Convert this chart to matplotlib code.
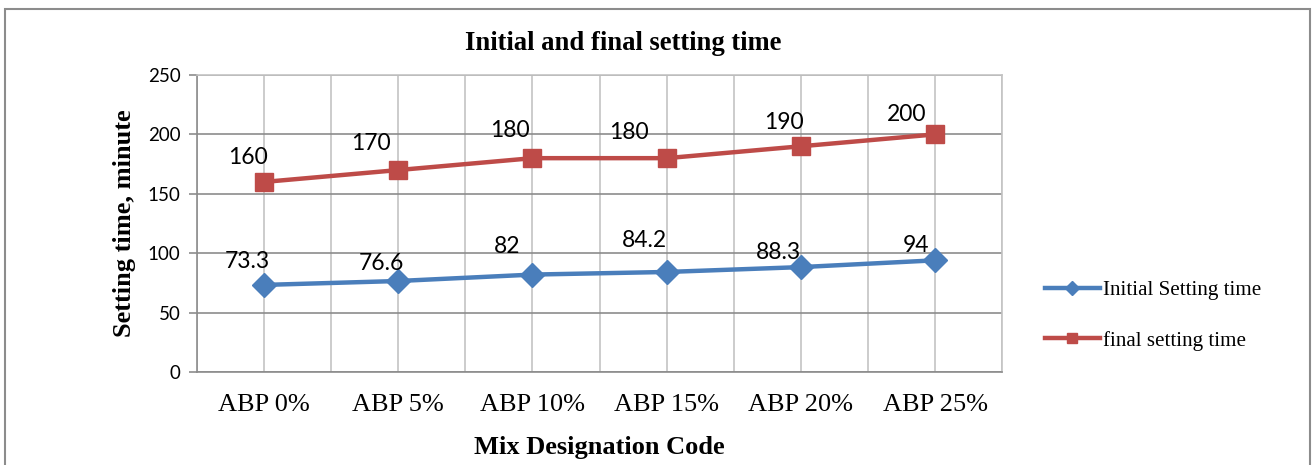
import matplotlib
matplotlib.use("Agg")
import matplotlib.pyplot as plt
from matplotlib.patches import Rectangle

# Setting time data (minutes) for each mix
mixes = ["ABP 0%", "ABP 5%", "ABP 10%", "ABP 15%", "ABP 20%", "ABP 25%"]
initial_time = [73.3, 76.6, 82, 84.2, 88.3, 94]
final_time = [160, 170, 180, 180, 190, 200]

# hand-placed label offsets (pixels, relative to the point)
initial_offsets = [(-17, 23), (-17, 18), (-25, 28), (-22, 31), (-22, 15), (-19, 15)]
final_offsets = [(-16, 24), (-27, 27), (-23, 28), (-38, 26), (-17, 24), (-28, 20)]

BLUE = "#4A7EBB"
RED = "#BE4B48"
SERIF = "Liberation Serif"
SANS = "Lato"


def main():
    fig = plt.figure(figsize=(13.12, 4.65), dpi=100)
    ax = fig.add_axes([0.1502, 0.2, 0.6136, 0.6387])

    x = list(range(len(mixes)))
    ax.plot(x, initial_time, color=BLUE, lw=3.2, marker="D", ms=12,
            label="Initial Setting time", zorder=3)
    ax.plot(x, final_time, color=RED, lw=3.2, marker="s", ms=13,
            label="final setting time", zorder=3)

    for xi, v, off in zip(x, initial_time, initial_offsets):
        ax.annotate(f"{v:g}", (xi, v), xytext=off, textcoords="offset pixels",
                    ha="center", va="center", fontsize=16.5, family=SANS)
    for xi, v, off in zip(x, final_time, final_offsets):
        ax.annotate(f"{v:g}", (xi, v), xytext=off, textcoords="offset pixels",
                    ha="center", va="center", fontsize=16.5, family=SANS)

    ax.set_xlim(-0.5, len(mixes) - 0.5)
    ax.set_ylim(0, 250)
    ax.set_yticks(range(0, 251, 50))
    ax.set_xticks(x)
    ax.set_xticklabels(mixes, family=SERIF, fontsize=19)
    ax.set_xticks([i + 0.5 for i in range(-1, len(mixes))], minor=True)
    for lab in ax.get_yticklabels():
        lab.set_family(SANS)
        lab.set_fontsize(13.5)

    # light vertical grid every half category, darker horizontal grid
    ax.grid(axis="y", color="#8C8C8C", lw=1.2)
    ax.grid(axis="x", which="both", color="#C4C4C4", lw=1.2)
    ax.set_axisbelow(True)
    ax.tick_params(axis="x", which="both", length=0, pad=15.5)
    ax.tick_params(axis="y", length=6, color="#8C8C8C", width=1.2, pad=6)
    for side in ["left", "bottom"]:
        ax.spines[side].set_color("#8C8C8C")
        ax.spines[side].set_linewidth(1.2)
    for side in ["top", "right"]:
        ax.spines[side].set_color("#C4C4C4")
        ax.spines[side].set_linewidth(1.2)

    ax.set_title("Initial and final setting time", family=SERIF, fontsize=19.2,
                 fontweight="bold", pad=18, x=0.529)
    ax.set_xlabel("Mix Designation Code", family=SERIF, fontsize=19,
                  fontweight="bold", labelpad=14.5)
    ax.set_ylabel("Setting time, minute", family=SERIF, fontsize=19,
                  fontweight="bold", labelpad=8.5)

    ax.legend(loc="center left", bbox_to_anchor=(1.03, 0.19), frameon=False,
              labelspacing=1.45, handlelength=2.6, handletextpad=0.15,
              markerscale=0.6, prop={"family": SERIF, "size": 15.1})

    fig.patches.append(Rectangle((5 / 1312, -0.05), 1305 / 1312, 1.05 - 9 / 465,
                                 transform=fig.transFigure, fill=False,
                                 edgecolor="#8C8C8C", lw=1.5))

    fig.savefig("out.png", dpi=100)


if __name__ == "__main__":
    main()
